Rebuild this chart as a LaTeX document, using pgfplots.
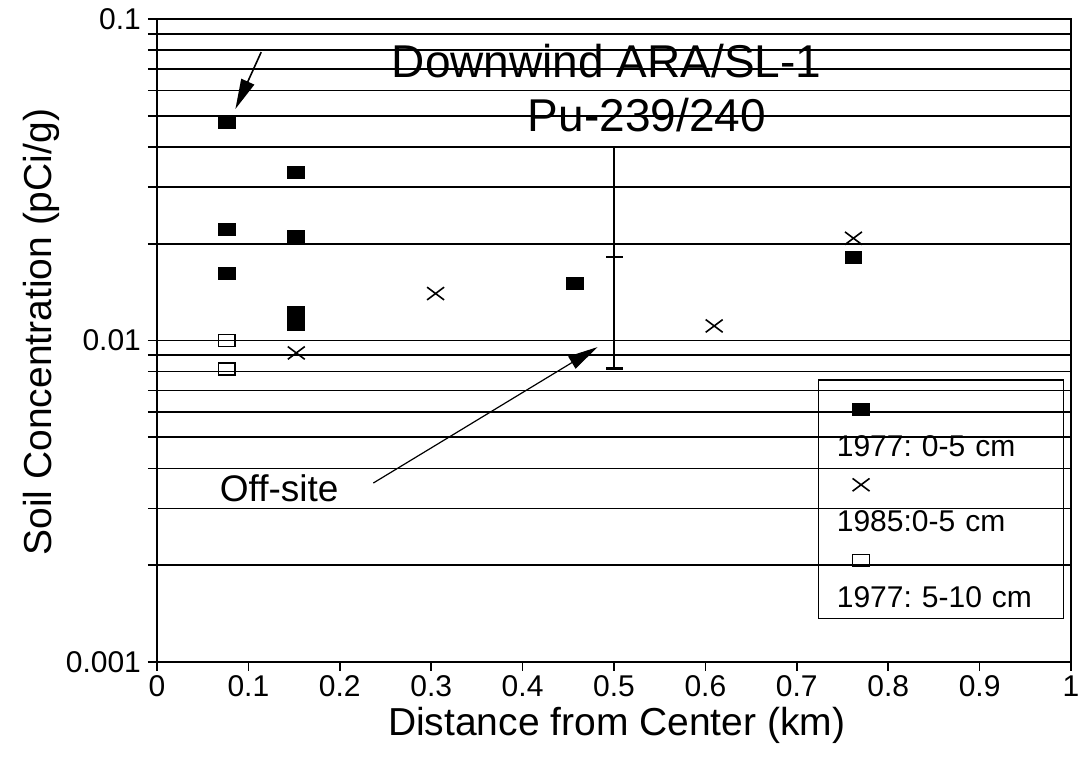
\documentclass[border=0pt]{standalone}
\usepackage{fontspec}
\setmainfont{Liberation Sans}
\usepackage{pgfplots}
\pgfplotsset{compat=1.18}
\usetikzlibrary{arrows.meta}
\begin{document}
\frenchspacing
\begin{tikzpicture}
\useasboundingbox (-78.5pt,-47pt) rectangle (462.5pt,331pt);
\begin{axis}[
  at={(0pt,0pt)}, anchor=south west,
  scale only axis, width=457pt, height=321.5pt,
  xmin=0, xmax=1, ymode=log, ymin=0.001, ymax=0.1,
  xtick={0,0.1,0.2,0.3,0.4,0.5,0.6,0.7,0.8,0.9,1},
  xticklabels={0,0.1,0.2,0.3,0.4,0.5,0.6,0.7,0.8,0.9,1},
  ytick={0.001,0.01,0.1}, yticklabels={0.001,0.01,0.1},
  xtick pos=bottom, ytick pos=left,
  tick align=outside, major tick length=4.5pt, minor tick length=4.5pt,
  tick style={black, line width=0.8pt},
  ymajorgrids, yminorgrids,
  major grid style={black, line width=0.8pt},
  minor grid style={black, line width=0.8pt},
  axis line style={black, line width=1pt},
  /pgf/number format/assume math mode=true,
  tick label style={font=\fontsize{15}{18}\selectfont},
  xticklabel style={inner sep=2pt},
  label style={font=\fontsize{19.5}{23}\selectfont},
  xlabel={Distance from Center (km)},
  ylabel={Soil Concentration (pCi/g)},
  xlabel style={at={(axis description cs:0.503,-0.114)}, anchor=base},
  ylabel style={at={(axis description cs:-0.127,0.513)}, anchor=center},
  legend cell align=left,
  legend image code/.code={\path (0pt,-5.5pt) (0pt,27pt); \draw[overlay,#1] plot coordinates {(12.5pt,18pt)};},
  legend style={at={(0.7235,0.4386)}, anchor=north west, draw=black, line width=0.6pt, fill=none,
    inner xsep=8.5pt, inner ysep=5.5pt, outer sep=0pt, row sep=4.5pt, column sep=0pt,
    font=\fontsize{15}{18}\selectfont,
    nodes={inner sep=0pt, text height=11pt, text depth=0pt, anchor=west, text width=105pt, align=left}},
]
\addplot[only marks, mark=square*, mark size=3pt, mark options={xscale=1.4, fill=black, draw=black}, line width=0.5pt] coordinates {
(0.0762,0.0475) (0.0762,0.0222) (0.0762,0.0162)
(0.1524,0.0332) (0.1524,0.0211) (0.1524,0.0122) (0.1524,0.0117) (0.1524,0.0112)
(0.4572,0.0150) (0.762,0.0181)
};
\addlegendentry{1977: 0-5 cm}
\addplot[only marks, mark=x, mark size=6pt, mark options={yscale=0.75}, line width=0.8pt] coordinates {
(0.1524,0.00915) (0.3048,0.0140) (0.6096,0.0111) (0.762,0.0208)
};
\addlegendentry{1985:0-5 cm}
\addplot[only marks, mark=square, mark size=3pt, mark options={xscale=1.4}, line width=0.6pt] coordinates {
(0.0762,0.0100) (0.0762,0.00815)
};
\addlegendentry{1977: 5-10 cm}
\addplot[forget plot, black, line width=0.8pt] coordinates {(0.5,0.0082) (0.5,0.040)};
\addplot[forget plot, only marks, mark=-, mark size=4.25pt, line width=0.8pt] coordinates {(0.5,0.0182)};
\addplot[forget plot, only marks, mark=-, mark size=4.25pt, line width=1.6pt] coordinates {(0.5,0.0082)};
\draw[line width=0.8pt, -{Triangle[length=15pt,width=7pt]}] (axis cs:0.114,0.0789) -- (axis cs:0.0858,0.0525);
\draw[line width=0.6pt, -{Triangle[length=15pt,width=7pt]}] (axis cs:0.2367,0.003604) -- (axis cs:0.482,0.00954);
\node[font=\fontsize{23}{27}\selectfont, anchor=base, inner sep=0pt] at (axis cs:0.492,0.066) {Downwind ARA/SL-1};
\node[font=\fontsize{23}{27}\selectfont, anchor=base, inner sep=0pt] at (axis cs:0.536,0.04452) {Pu-239/240};
\node[font=\fontsize{18.5}{22}\selectfont, anchor=base west, inner sep=0pt] at (axis cs:0.0684,0.003146) {Off-site};
\end{axis}
\end{tikzpicture}
\end{document}
